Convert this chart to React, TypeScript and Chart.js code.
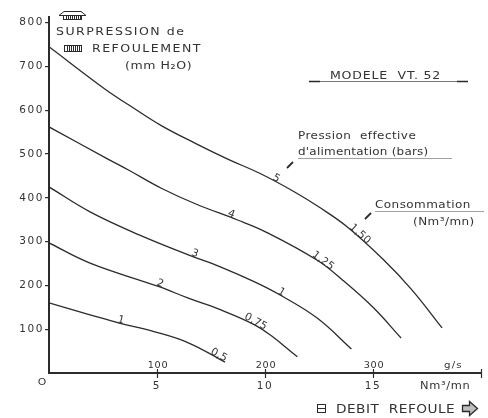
import React, { useEffect, useRef } from 'react';
import { Chart, registerables } from 'chart.js';
Chart.register(...registerables);

// ---- data ----
const yTicks = [100, 200, 300, 400, 500, 600, 700, 800];
const xTicks = [5, 10, 15, 20];
const xTickLabels = ['5', '10', '15', ''];
const gsTicks = [100, 200, 300]; // g/s
const gsPerNm3mn = 20;

const pressureLabels = ['5', '4', '3', '2', '1'];
const consumptionLabels = ['1,50', '1,25', '1', '0,75', '0,5'];

const curve5X = [0, 2.6, 3.7, 5.2, 6.8, 8.3, 9.8, 11.35, 12.5, 13.8, 15.5, 16.8, 18.2];
const curve5Y = [745, 648, 612, 565, 524, 488, 455, 414, 379, 334, 258, 190, 103];
const curve4X = [0, 2.6, 3.7, 5.2, 6.8, 8.7, 10.0, 12.4, 13.6, 15.0, 16.3];
const curve4Y = [562, 492, 463, 422, 386, 350, 323, 258, 212, 150, 80];
const curve3X = [0, 1.9, 4.2, 6.45, 7.96, 9.52, 10.7, 12.4, 14.0];
const curve3Y = [425, 368, 315, 270, 242, 208, 178, 126, 55];
const curve2X = [0, 1.9, 5.1, 6.45, 7.96, 9.52, 10.43, 11.0, 11.5];
const curve2Y = [297, 251, 197, 171, 144, 110, 80, 57, 37];
const curve1X = [0, 1.9, 3.25, 4.9, 6.45, 8.15];
const curve1Y = [160, 133, 114, 94, 69, 25];

// label anchor abscissae (Nm3/mn) along each curve
const pressureLabelAt = [10.45, 8.4, 6.7, 5.1, 3.3];
const consumptionLabelAt = [14.3, 12.6, 10.7, 9.5, 7.8];

const curvesX = [curve5X, curve4X, curve3X, curve2X, curve1X];
const curvesY = [curve5Y, curve4Y, curve3Y, curve2Y, curve1Y];

const INK = '#2b2b2b';
const TEXT = '#333333';
const FONT = "'DejaVu Sans'";

function yAt(xs: number[], ys: number[], x: number) {
  if (x <= xs[0]) return ys[0];
  for (let k = 1; k < xs.length; k++) {
    if (x <= xs[k]) {
      const t = (x - xs[k - 1]) / (xs[k] - xs[k - 1]);
      return ys[k - 1] + t * (ys[k] - ys[k - 1]);
    }
  }
  return ys[ys.length - 1];
}

function txt(
  ctx: CanvasRenderingContext2D,
  s: string,
  x: number,
  y: number,
  size: number,
  spacing: number,
  align: CanvasTextAlign = 'left',
  stretch = 1.14,
) {
  ctx.save();
  ctx.font = `${size}px ${FONT}`;
  (ctx as any).letterSpacing = `${spacing}px`;
  ctx.fillStyle = TEXT;
  ctx.textAlign = align;
  ctx.textBaseline = 'alphabetic';
  ctx.translate(x, y);
  ctx.scale(stretch, 1);
  ctx.fillText(s, 0, 0);
  ctx.restore();
}

const spacingPlugin = {
  id: 'spacing',
  beforeDraw(chart: any) {
    const ctx = chart.ctx;
    ctx.save();
    ctx.fillStyle = '#ffffff';
    ctx.fillRect(0, 0, chart.width, chart.height);
    ctx.restore();
    (ctx as any).letterSpacing = '1.6px';
  },
  afterDatasetsDraw(chart: any) {
    (chart.ctx as any).letterSpacing = '0px';
  },
};

const curveLabelPlugin = {
  id: 'curveLabels',
  afterDatasetsDraw(chart: any) {
    const ctx = chart.ctx as CanvasRenderingContext2D;
    const xs = chart.scales.x, ys = chart.scales.y;
    const put = (i: number, text: string, xv: number) => {
      const X = curvesX[i], Y = curvesY[i];
      const px = xs.getPixelForValue(xv), py = ys.getPixelForValue(yAt(X, Y, xv));
      const ax = xs.getPixelForValue(xv - 0.3), ay = ys.getPixelForValue(yAt(X, Y, xv - 0.3));
      const bx = xs.getPixelForValue(xv + 0.3), by = ys.getPixelForValue(yAt(X, Y, xv + 0.3));
      const ang = Math.atan2(by - ay, bx - ax);
      ctx.save();
      ctx.translate(px, py);
      ctx.rotate(ang);
      ctx.font = `10.5px ${FONT}`;
      (ctx as any).letterSpacing = '0.3px';
      ctx.fillStyle = TEXT;
      ctx.textAlign = 'center';
      ctx.textBaseline = 'alphabetic';
      ctx.fillText(text, 0, -0.5);
      ctx.restore();
    };
    for (let i = 0; i < curvesX.length; i++) {
      put(i, pressureLabels[i], pressureLabelAt[i]);
      put(i, consumptionLabels[i], consumptionLabelAt[i]);
    }
  },
};

const annotPlugin = {
  id: 'annot',
  afterDraw(chart: any) {
    const ctx = chart.ctx as CanvasRenderingContext2D;
    const xs = chart.scales.x;
    const ys = chart.scales.y;
    const base = ys.getPixelForValue(0);
    (ctx as any).letterSpacing = '0px';
    ctx.save();
    ctx.strokeStyle = INK;
    ctx.lineWidth = 1.2;
    // crossing tick marks on x axis
    xTicks.forEach((v) => {
      const p = Math.round(xs.getPixelForValue(v)) + 0.5;
      ctx.beginPath();
      ctx.moveTo(p, base - 4);
      ctx.lineTo(p, base + 5);
      ctx.stroke();
    });
    ctx.restore();

    // g/s secondary labels
    gsTicks.forEach((g) => {
      txt(ctx, String(g), xs.getPixelForValue(g / gsPerNm3mn) + 1, base - 5, 8.5, 0.6, 'center');
    });
    txt(ctx, 'g/s', 444, base - 5, 9, 1);
    txt(ctx, 'Nm³/mn', 420, base + 16, 10, 0.6);
    txt(ctx, 'O', 42, base + 12, 9.5, 0, 'center');

    // y-axis title block
    ctx.save();
    ctx.strokeStyle = INK;
    ctx.lineWidth = 1;
    // up-arrow icon
    ctx.beginPath();
    ctx.moveTo(59, 15.5); ctx.lineTo(64, 11.5); ctx.lineTo(81, 11.5); ctx.lineTo(86, 15.5); ctx.closePath();
    ctx.stroke();
    ctx.strokeRect(63.5, 15.5, 18, 4);
    for (let x = 66; x < 81; x += 2) { ctx.beginPath(); ctx.moveTo(x + 0.5, 15.5); ctx.lineTo(x + 0.5, 19.5); ctx.stroke(); }
    // striped rect icon
    ctx.strokeRect(64.5, 45.5, 17, 6);
    for (let x = 67; x < 81; x += 2) { ctx.beginPath(); ctx.moveTo(x + 0.5, 45.5); ctx.lineTo(x + 0.5, 51.5); ctx.stroke(); }
    ctx.restore();
    txt(ctx, 'SURPRESSION de', 56, 35, 11, 1.3);
    txt(ctx, 'REFOULEMENT', 92, 52, 11, 1.3);
    txt(ctx, '(mm H₂O)', 125, 69, 11, 0.5);

    // model title
    txt(ctx, 'MODELE  VT. 52', 330, 79, 11, 0.7);
    ctx.save();
    ctx.strokeStyle = '#555';
    ctx.lineWidth = 0.8;
    ctx.beginPath(); ctx.moveTo(309, 81.5); ctx.lineTo(468, 81.5); ctx.stroke();
    ctx.strokeStyle = INK;
    ctx.lineWidth = 1.6;
    ctx.beginPath(); ctx.moveTo(309, 81.5); ctx.lineTo(320, 81.5); ctx.moveTo(457, 81.5); ctx.lineTo(468, 81.5); ctx.stroke();
    ctx.restore();

    // pressure legend
    txt(ctx, 'Pression  effective', 298, 139, 10.5, 0.4);
    txt(ctx, "d'alimentation (bars)", 298, 155, 10.5, 0.2);
    txt(ctx, 'Consommation', 375, 208, 10.5, 0.4);
    txt(ctx, '(Nm³/mn)', 413, 225, 10.5, 0.4);
    ctx.save();
    ctx.strokeStyle = '#888';
    ctx.lineWidth = 0.8;
    ctx.beginPath(); ctx.moveTo(298, 158.5); ctx.lineTo(452, 158.5); ctx.stroke();
    ctx.beginPath(); ctx.moveTo(375, 211.5); ctx.lineTo(484, 211.5); ctx.stroke();
    ctx.strokeStyle = INK;
    ctx.lineWidth = 1.8;
    ctx.beginPath(); ctx.moveTo(293, 162); ctx.lineTo(287, 168); ctx.stroke();
    ctx.beginPath(); ctx.moveTo(371, 213); ctx.lineTo(365, 219); ctx.stroke();
    ctx.restore();

    // x title
    ctx.save();
    ctx.strokeStyle = INK;
    ctx.lineWidth = 1;
    ctx.strokeRect(317.5, 404.5, 8, 8);
    ctx.beginPath(); ctx.moveTo(317.5, 408.5); ctx.lineTo(325.5, 408.5); ctx.stroke();
    // right block arrow
    ctx.beginPath();
    ctx.moveTo(462.5, 405.5); ctx.lineTo(469.5, 405.5); ctx.lineTo(469.5, 401.5);
    ctx.lineTo(477.5, 408.5); ctx.lineTo(469.5, 415.5); ctx.lineTo(469.5, 411.5);
    ctx.lineTo(462.5, 411.5); ctx.closePath();
    ctx.fillStyle = '#bdbdbd';
    ctx.fill();
    ctx.lineWidth = 1.3;
    ctx.stroke();
    ctx.restore();
    txt(ctx, 'DEBIT  REFOULE', 336, 413, 12, 0.4);
  },
};

export default function App() {
  const ref = useRef<HTMLCanvasElement>(null);
  useEffect(() => {
    document.body.style.margin = '0';
    const chart = new Chart(ref.current as HTMLCanvasElement, {
      type: 'line',
      data: {
        datasets: curvesX.map((X, i) => ({
          label: pressureLabels[i],
          data: X.map((x, k) => ({ x, y: curvesY[i][k] })),
          borderColor: INK,
          borderWidth: 1.3,
          pointRadius: 0,
          fill: false,
          tension: 0.4,
        })),
      },
      options: {
        animation: false,
        responsive: true,
        maintainAspectRatio: false,
        layout: { padding: { top: 17, right: 2, left: 0, bottom: 0 } },
        plugins: { legend: { display: false }, tooltip: { enabled: false }, title: { display: false } },
        scales: {
          x: {
            type: 'linear',
            min: 0,
            max: 20,
            afterFit: (s: any) => { s.height = 45; },
            afterBuildTicks: (s: any) => { s.ticks = xTicks.map((v) => ({ value: v })); },
            ticks: {
              autoSkip: false,
              maxRotation: 0,
              padding: 7,
              color: TEXT,
              font: { family: 'DejaVu Sans', size: 10.5 },
              callback: (v: any) => xTickLabels[xTicks.indexOf(Number(v))] ?? '',
            },
            grid: { drawOnChartArea: false, drawTicks: false },
            border: { display: true, width: 2, color: INK },
          },
          y: {
            type: 'linear',
            min: 0,
            max: 813,
            afterFit: (s: any) => { s.width = 49; },
            afterBuildTicks: (s: any) => { s.ticks = yTicks.map((v) => ({ value: v })); },
            ticks: {
              padding: 1,
              color: TEXT,
              font: { family: 'DejaVu Sans', size: 10.5 },
              callback: (v: any) => String(v),
            },
            grid: { drawOnChartArea: false, tickLength: 4, color: INK, lineWidth: 1.2 },
            border: { display: true, width: 2, color: INK },
          },
        },
      },
      plugins: [spacingPlugin, curveLabelPlugin, annotPlugin],
    });
    return () => chart.destroy();
  }, []);
  return (
    <div style={{ width: 488, height: 418, position: 'relative' }}>
      <canvas ref={ref} />
    </div>
  );
}
